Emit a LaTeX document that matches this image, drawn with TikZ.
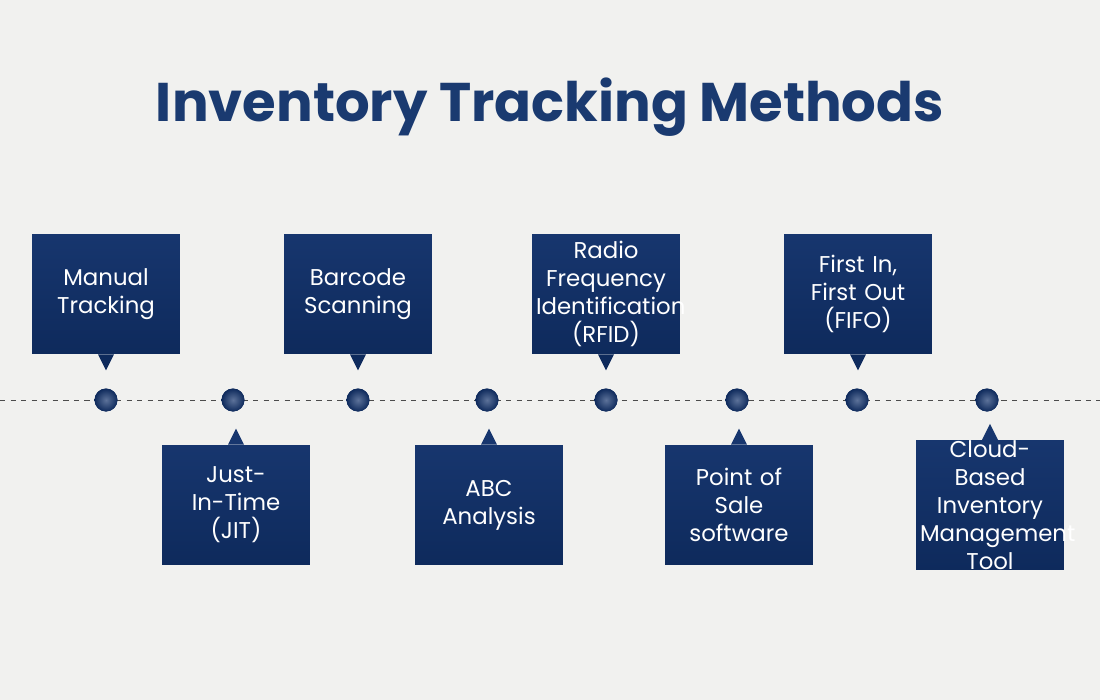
\documentclass[tikz,border=0pt]{standalone}
\usepackage{fontspec}
\setmainfont{Poppins}
\usetikzlibrary{positioning}
\definecolor{navy}{HTML}{17366E}
\definecolor{navydark}{HTML}{0E2A5C}
\definecolor{titleblue}{HTML}{1A3A70}
\definecolor{bggrey}{HTML}{F1F1EF}
\tikzset{
  method box/.style={minimum width=2.96cm, minimum height=2.4cm, text width=2.8cm, align=center,
    top color=navy, bottom color=navydark, text=white, font=\fontsize{13}{16}\selectfont, inner sep=0pt},
  dot/.style={circle, fill=navydark, inner color=navy!70!white, outer color=navydark, minimum size=0.46cm, inner sep=0pt},
}
\begin{document}
\begin{tikzpicture}[x=0.02cm,y=-0.02cm]
\fill [bggrey] (0,0) rectangle (1100,700);
\useasboundingbox (0,0) rectangle (1100,700);
\node [text=titleblue, font=\fontsize{31}{36}\selectfont\bfseries] (title) at (550,107) {Inventory Tracking Methods};
\draw [dashed, black!70] (0,400) -- (1100,400);
% timeline dots
\foreach \n/\x in {d1/106,d2/233,d3/358,d4/487,d5/606,d6/737,d7/857,d8/987}
  \node [dot] (\n) at (\x,400) {};
% boxes above the line
\foreach \n/\x/\t in {b1/106/{Manual\\Tracking},b3/358/{Barcode\\Scanning},b5/606/{Radio\\Frequency\\Identification\\(RFID)},b7/858/{First In,\\First Out\\(FIFO)}}{
  \node [method box] (\n) at (\x,294) {\t};
  \fill [navydark] ([xshift=-0.16cm]\n.south) -- ([xshift=0.16cm]\n.south) -- ([yshift=-0.32cm]\n.south) -- cycle;
}
% boxes below the line
\foreach \n/\x/\t in {b2/236/{Just-In-Time\\(JIT)},b4/489/{ABC Analysis},b6/739/{Point of\\Sale software},b8/990/{Cloud-Based\\Inventory\\Management\\Tool}}{
  \node [method box] (\n) at (\x,505) {\t};
  \fill [navy] ([xshift=-0.16cm]\n.north) -- ([xshift=0.16cm]\n.north) -- ([yshift=0.32cm]\n.north) -- cycle;
}
\end{tikzpicture}
\end{document}
